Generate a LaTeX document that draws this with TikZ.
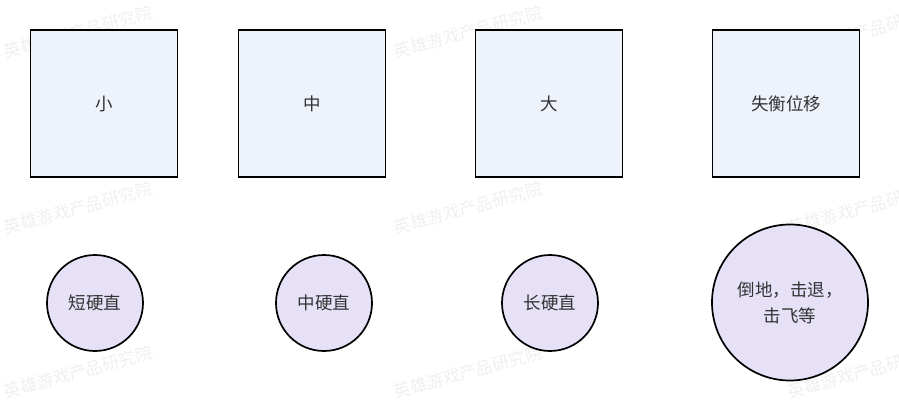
\documentclass[tikz,border=0pt]{standalone}
\usepackage{fontspec}
\newfontfamily\cjk{Noto Sans CJK SC}
\definecolor{sqfill}{HTML}{EEF2FB}
\definecolor{cifill}{HTML}{E7E1F8}
\definecolor{wm}{HTML}{F0F0F0}
\definecolor{txt}{HTML}{333333}
\begin{document}
\begin{tikzpicture}[x=1pt,y=-1pt,
  sq/.style={draw=black,line width=1.7pt,fill=sqfill,minimum width=147pt,minimum height=147pt,inner sep=0pt,font=\cjk\fontsize{17.5}{26}\selectfont,text=txt},
  ci/.style={draw=black,line width=1.7pt,fill=cifill,circle,inner sep=0pt,font=\cjk\fontsize{17.5}{26}\selectfont,text=txt,align=center},
  wmark/.style={text=wm,font=\cjk\fontsize{17}{20}\selectfont,rotate=15,anchor=center}]
\useasboundingbox (0,0) rectangle (899,412);
\fill[white] (0,0) rectangle (899,412);
% watermarks
\foreach \wx in {78,468,862} {
  \foreach \wy in {32,208,372} {
    \node[wmark] at (\wx,\wy) {英雄游戏产品研究院};
  }
}
\node[sq] (s1) at (104,103.5) {小};
\node[sq] (s2) at (312,103.5) {中};
\node[sq] (s3) at (549,103.5) {大};
\node[sq] (s4) at (786,103.5) {失衡位移};
\node[ci,minimum size=96pt] (c1) at (95,303) {短硬直};
\node[ci,minimum size=96pt] (c2) at (324,303) {中硬直};
\node[ci,minimum size=96pt] (c3) at (550,303) {长硬直};
\node[ci,minimum size=156pt] (c4) at (790,302.5) {倒地，击退，\\击飞等};
\end{tikzpicture}
\end{document}
